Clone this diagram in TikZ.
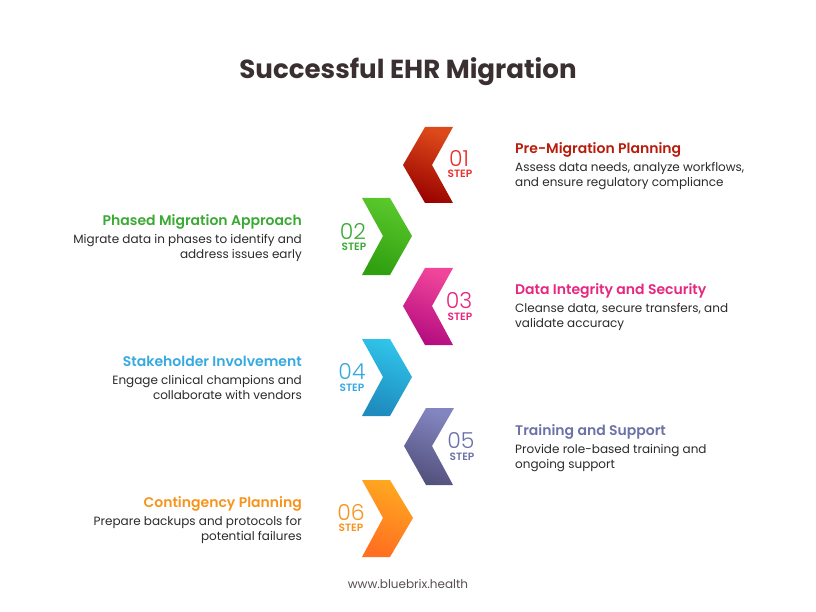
\documentclass[tikz,border=0pt]{standalone}
\usepackage{fontspec}
\setmainfont{Poppins}
\newfontfamily\numfont{Poppins}[UprightFont=* Light]
\newfontfamily\semifont{Poppins}[UprightFont=* SemiBold]
\newfontfamily\boldfont{Poppins}[UprightFont=* Bold]
\definecolor{redA}{HTML}{DC4A1A}\definecolor{redB}{HTML}{9A0200}\definecolor{redT}{HTML}{B71C0C}\definecolor{redN}{HTML}{E5322D}
\definecolor{greenA}{HTML}{5AC82C}\definecolor{greenB}{HTML}{30A010}\definecolor{greenT}{HTML}{3BAA35}
\definecolor{pinkA}{HTML}{F0459A}\definecolor{pinkB}{HTML}{B40C80}\definecolor{pinkT}{HTML}{E6267F}
\definecolor{blueA}{HTML}{30C4EA}\definecolor{blueB}{HTML}{1E8CBE}\definecolor{blueT}{HTML}{36A9E0}
\definecolor{purpleA}{HTML}{8385C0}\definecolor{purpleB}{HTML}{52507C}\definecolor{purpleT}{HTML}{6C72A8}
\definecolor{orangeA}{HTML}{FFA820}\definecolor{orangeB}{HTML}{FF7020}\definecolor{orangeT}{HTML}{F7941D}
\definecolor{inkT}{HTML}{3A3032}
\definecolor{inkB}{HTML}{2A2A2A}
\tikzset{
  head/.style={font=\semifont\fontsize{14}{16}\selectfont,inner sep=0pt},
  bodyL/.style={font=\fontsize{12}{15}\selectfont,inner sep=0pt,align=left,text=inkB,anchor=north west},
  bodyR/.style={font=\fontsize{12}{15}\selectfont,inner sep=0pt,align=right,text=inkB,anchor=north east},
  num/.style={font=\numfont\fontsize{22}{22}\selectfont,inner sep=0pt},
  stp/.style={font=\semifont\fontsize{10.6}{10.6}\selectfont,inner sep=0pt},
  chev/.style={shading angle=-20}
}
\begin{document}
\begin{tikzpicture}[x=1pt,y=-1pt]
\useasboundingbox (0,0) rectangle (816,612);
\node[inner sep=0pt,text=inkT,font=\boldfont\fontsize{26.1}{30}\selectfont] (title) at (408,72) {Successful EHR Migration};

% left pointing
\shade[top color=redA,bottom color=redB,chev](453,127)--(425,127)--(403,165)--(425,203)--(453,203)--(432,165)--cycle;
\node[num,text=redN] (n1) at (459,158.5) {01};
\node[stp,text=redN] (s1) at (460,173.5) {STEP};
\node[head,text=redT,anchor=base west] (h1) at (515,153.5) {Pre-Migration Planning};
\node[bodyL] (b1) at (515,162) {Assess data needs, analyze workflows,\\and ensure regulatory compliance};

% right pointing
\shade[top color=greenA,bottom color=greenB,chev](362,198)--(390,198)--(412,236)--(390,275)--(362,275)--(383,236)--cycle;
\node[num,text=greenT] (n2) at (353,231.5) {02};
\node[stp,text=greenT] (s2) at (354,246.5) {STEP};
\node[head,text=greenT,anchor=base east] (h2) at (302,225.5) {Phased Migration Approach};
\node[bodyR] (b2) at (302,234) {Migrate data in phases to identify and\\address issues early};

\shade[top color=pinkA,bottom color=pinkB,chev](453,268)--(425,268)--(403,306)--(425,345)--(453,345)--(432,306)--cycle;
\node[num,text=pinkT] (n3) at (459,300.5) {03};
\node[stp,text=pinkT] (s3) at (460,316.5) {STEP};
\node[head,text=pinkT,anchor=base west] (h3) at (515,294.5) {Data Integrity and Security};
\node[bodyL] (b3) at (515,303) {Cleanse data, secure transfers, and\\validate accuracy};

\shade[top color=blueA,bottom color=blueB,chev](362,339)--(390,339)--(412,377)--(390,416)--(362,416)--(383,377)--cycle;
\node[num,text=blueT] (n4) at (352,372) {04};
\node[stp,text=blueT] (s4) at (352,387.5) {STEP};
\node[head,text=blueT,anchor=base east] (h4) at (302,366.5) {Stakeholder Involvement};
\node[bodyR] (b4) at (302,375) {Engage clinical champions and\\collaborate with vendors};

\shade[top color=purpleA,bottom color=purpleB,chev](454,408)--(426,408)--(404,446)--(426,485)--(453,485)--(432,446)--cycle;
\node[num,text=purpleT] (n5) at (461,441) {05};
\node[stp,text=purpleT] (s5) at (462,456.5) {STEP};
\node[head,text=purpleT,anchor=base west] (h5) at (515,435.5) {Training and Support};
\node[bodyL] (b5) at (515,444) {Provide role-based training and\\ongoing support};

\shade[top color=orangeA,bottom color=orangeB,chev](362,480)--(390,480)--(413,518)--(390,557)--(362,557)--(383,518)--cycle;
\node[num,text=orangeT] (n6) at (351,512) {06};
\node[stp,text=orangeT] (s6) at (351,527.5) {STEP};
\node[head,text=orangeT,anchor=base east] (h6) at (302,507.5) {Contingency Planning};
\node[bodyR] (b6) at (302,516) {Prepare backups and protocols for\\potential failures};

\node[inner sep=0pt,text=inkT!85,font=\fontsize{12}{14}\selectfont] (web) at (408,584) {www.bluebrix.health};
\end{tikzpicture}
\end{document}
